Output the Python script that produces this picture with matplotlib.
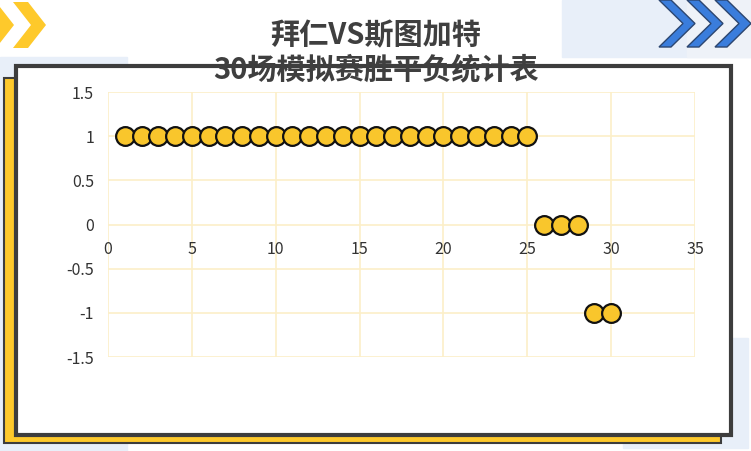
import matplotlib
matplotlib.use("Agg")
import matplotlib.pyplot as plt
from matplotlib.patches import Rectangle, Polygon
import numpy as np

plt.rcParams['font.family'] = ['Noto Sans CJK SC', 'DejaVu Sans']

# ---- data ----
matches = list(range(1, 31))
results = [1] * 25 + [0] * 3 + [-1] * 2
x_ticks = [0, 5, 10, 15, 20, 25, 30, 35]
y_ticks = [-1.5, -1, -0.5, 0, 0.5, 1, 1.5]
y_labels = ['-1.5', '-1', '-0.5', '0', '0.5', '1', '1.5']
title_lines = ['拜仁VS斯图加特', '30场模拟赛胜平负统计表']

W, H = 751, 451
fig = plt.figure(figsize=(W / 100, H / 100), dpi=100)
fig.patch.set_facecolor('white')

# background decoration axes in pixel coordinates
bg = fig.add_axes([0, 0, 1, 1], zorder=0)
bg.set_xlim(0, W)
bg.set_ylim(H, 0)
bg.axis('off')

light_blue = '#e8eff9'
# light blue blocks
bg.add_patch(Rectangle((0, 57), 127, H - 57, color=light_blue, zorder=1))
bg.add_patch(Rectangle((623, 338), 125, 110, color=light_blue, zorder=1))
bg.add_patch(Rectangle((562, 0), W - 562, 57, color=light_blue, zorder=1))
bg.add_patch(Rectangle((687, 0), W - 687, 57, color='#eef2f8', zorder=1))

# yellow chevrons (top-left)
def chevron(x0, yt, yb, w, d, **kw):
    ym = (yt + yb) / 2
    pts = [(x0, yt), (x0 + w, yt), (x0 + w + d, ym), (x0 + w, yb), (x0, yb), (x0 + d, ym)]
    return Polygon(pts, closed=True, **kw)

for x0 in [-19, 13]:
    bg.add_patch(chevron(x0, 2, 48, 15, 18, facecolor='#fec92b', edgecolor='none', zorder=2))

# blue chevrons (top-right)
for tip in [695, 723, 751]:
    bg.add_patch(chevron(tip - 36, 0, 47, 12, 24, facecolor='#3a7ddc', edgecolor='#2c4670',
                         linewidth=1.0, zorder=2))

# yellow shadow card
bg.add_patch(Rectangle((4, 78), 717, 365, facecolor='#fec92b', edgecolor='#3d3d3d',
                       linewidth=1.5, zorder=3))
# white card
bg.add_patch(Rectangle((16, 66), 715, 369, facecolor='white', edgecolor='#3d3d3d',
                       linewidth=3, zorder=4))

# main plot axes
x0p, x1p, y0p, y1p = 108, 695, 92, 357
ax = fig.add_axes([x0p / W, 1 - y1p / H, (x1p - x0p) / W, (y1p - y0p) / H], zorder=2)
ax.set_facecolor('none')
ax.set_xlim(0, 35)
ax.set_ylim(-1.5, 1.5)
ax.set_xticks(x_ticks)
ax.set_yticks(y_ticks)
ax.set_yticklabels(y_labels)
ax.grid(True, color='#fcefc8', linewidth=1.2)
ax.set_axisbelow(True)
for s in ['top', 'right', 'left']:
    ax.spines[s].set_visible(False)
ax.spines['bottom'].set_position(('data', 0))
ax.spines['bottom'].set_visible(False)
ax.tick_params(axis='both', length=0, labelsize=11.5, colors='#333333')
ax.tick_params(axis='x', pad=12)
ax.tick_params(axis='y', pad=10)

ax.plot(matches, results, linestyle='none', marker='o', markersize=13.5,
        markerfacecolor='#f9c62c', markeredgecolor='#111111', markeredgewidth=1.6,
        clip_on=False, zorder=3)

# title
fig.text(376 / W, 1 - 35 / H, title_lines[0], ha='center', va='center',
         fontsize=21, fontweight='bold', color='#3f3f3f')
fig.text(376 / W, 1 - 69 / H, title_lines[1], ha='center', va='center',
         fontsize=21, fontweight='bold', color='#3f3f3f')

fig.savefig('out.png', dpi=100, facecolor='white')
